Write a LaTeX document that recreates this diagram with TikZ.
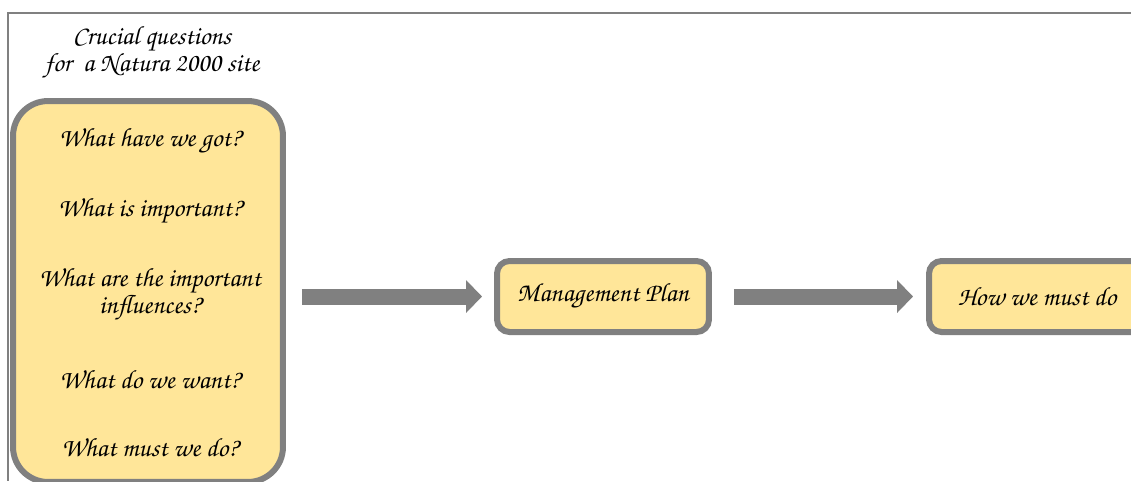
\documentclass[tikz,border=0pt]{standalone}
\usepackage{tikz}
\usetikzlibrary{arrows.meta, positioning}
\definecolor{boxfill}{RGB}{255,230,153}
\definecolor{boxline}{RGB}{128,128,128}
\newcommand{\chancery}{\usefont{T1}{pzc}{m}{it}}
\tikzset{
    question/.style={text centered, align=center, font=\chancery\fontsize{15}{15.3}\selectfont},
    bigbox/.style={rectangle, rounded corners=0.7cm, draw=boxline, line width=0.12cm, fill=boxfill, minimum width=5.4cm, minimum height=7.62cm},
    planbox/.style={rectangle, rounded corners=0.25cm, draw=boxline, line width=0.12cm, fill=boxfill, minimum height=1.42cm, text centered, font=\chancery\fontsize{15}{15}\selectfont},
    fatarrow/.style={-{Triangle[width=0.64cm,length=0.32cm]}, line width=0.32cm, draw=boxline}
}
\begin{document}
\begin{tikzpicture}[x=0.02cm, y=-0.02cm]
    \useasboundingbox (0,0) rectangle (1131,481);
    % Frame
    \draw[boxline, line width=0.04cm] (1131,13) -- (8,13) -- (8,481);

    % Heading
    \node[question] (head) at (152,53) {Crucial questions\\for\ \ a Natura 2000 site};

    % Questions box
    \node[bigbox] (qbox) at (148,291.5) {};
    \node[question] (q1) at (150,141) {What have we got?};
    \node[question] (q2) at (150,211) {What is important?};
    \node[question] (q3) at (150,295) {What are the important\\influences?};
    \node[question] (q4) at (150,379) {What do we want?};
    \node[question] (q5) at (150,447) {What must we do?};

    % Plan and action
    \node[planbox, minimum width=4.24cm] (plan) at (603,296.5) {Management Plan};
    \node[planbox, minimum width=4.32cm] (how) at (1037,296.5) {How we must do};

    % Arrows
    \draw[fatarrow, shorten <=0.32cm, shorten >=0.24cm] (qbox.east |- plan.west) -- (plan.west);
    \draw[fatarrow, shorten <=0.44cm, shorten >=0.26cm] (plan.east) -- (how.west);
\end{tikzpicture}
\end{document}
